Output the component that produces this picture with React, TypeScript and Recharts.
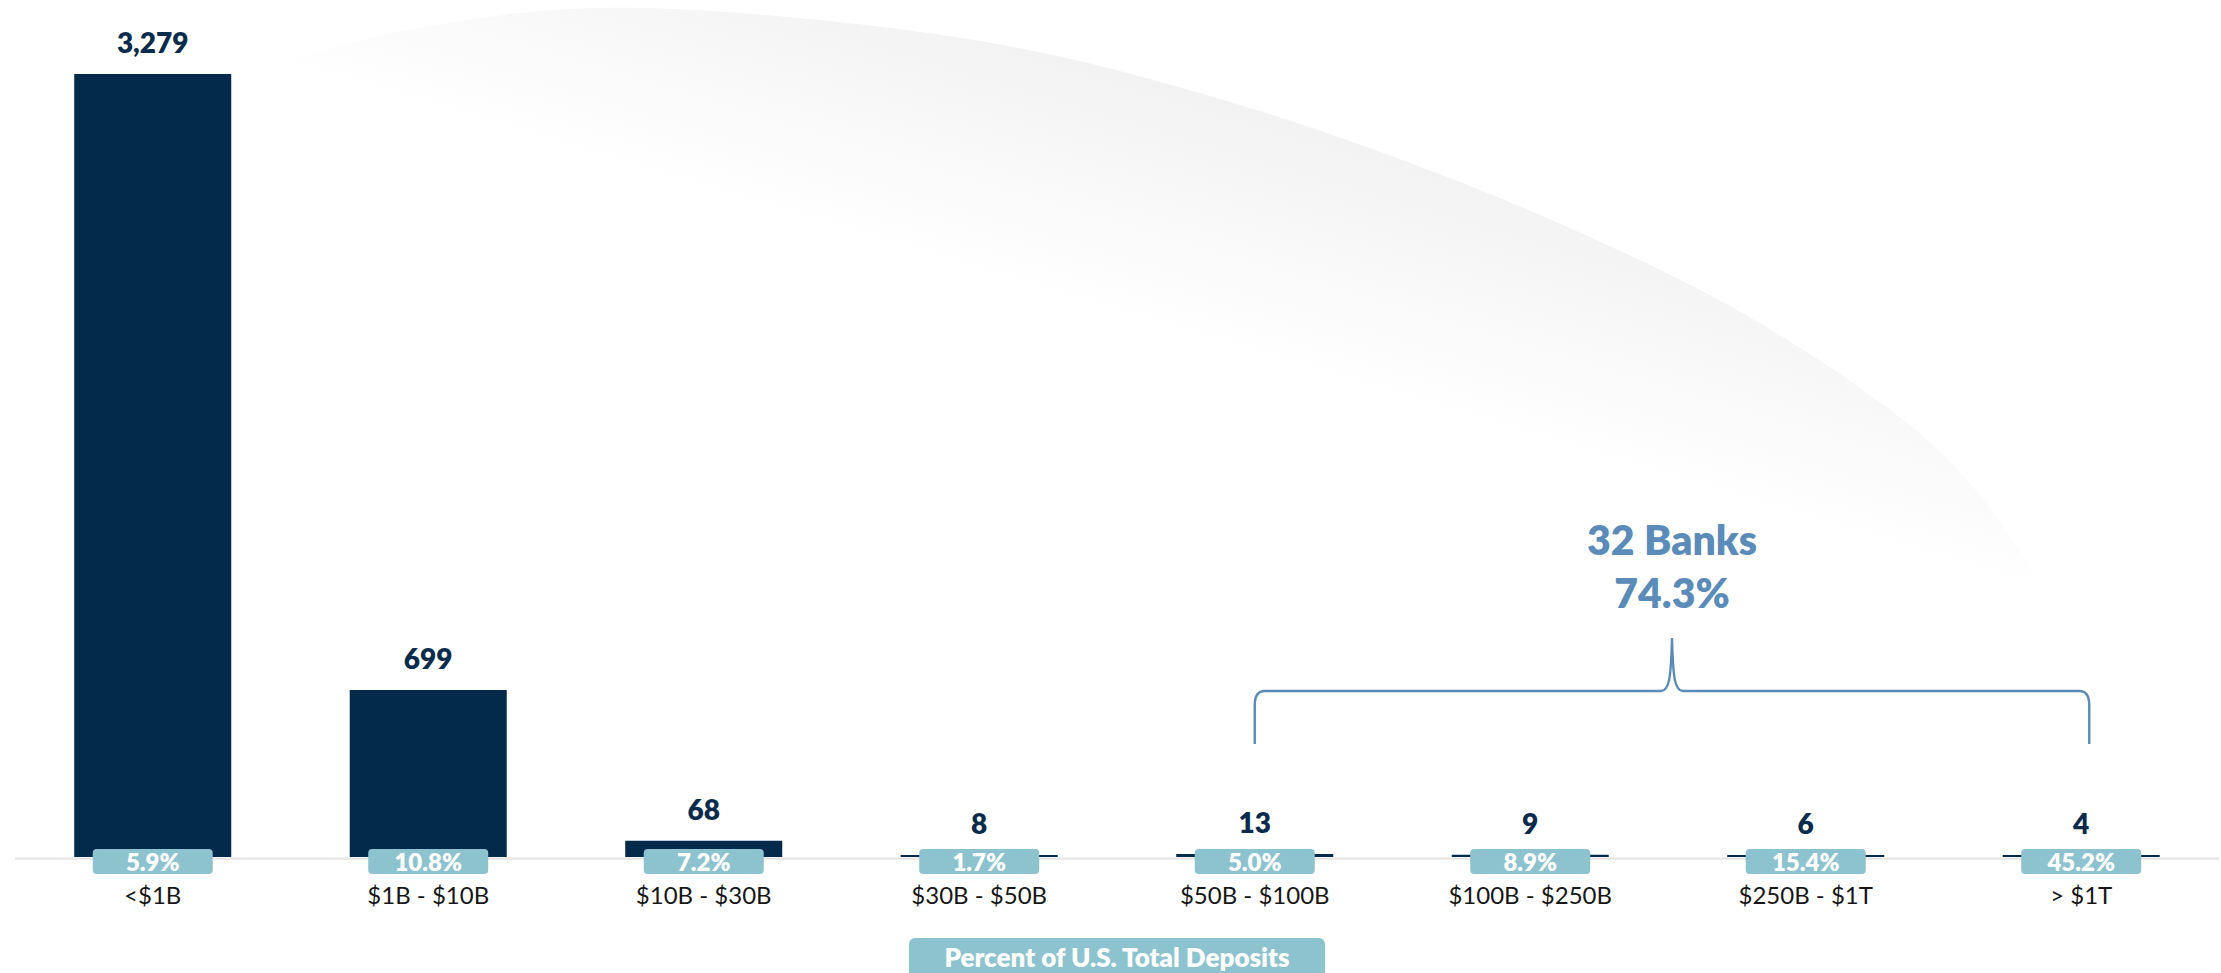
import React from 'react';
import { BarChart, Bar, XAxis, YAxis, LabelList, Customized } from 'recharts';

const categories = ['<$1B', '$1B - $10B', '$10B - $30B', '$30B - $50B', '$50B - $100B', '$100B - $250B', '$250B - $1T', '> $1T'];
const bankCounts = [3279, 699, 68, 8, 13, 9, 6, 4];
const depositShares = ['5.9%', '10.8%', '7.2%', '1.7%', '5.0%', '8.9%', '15.4%', '45.2%'];
const bracketTitle = '32 Banks';
const bracketValue = '74.3%';
const legendLabel = 'Percent of U.S. Total Deposits';
const bracketFrom = 4;
const bracketTo = 7;

const data = categories.map((c, i) => ({ category: c, banks: bankCounts[i], share: depositShares[i] }));

const W = 2221;
const H = 973;
const MARGIN = { top: 74, right: 2, bottom: 56, left: 15 };
const AXIS_H = 60;
const FONT = 'Lato, "Open Sans", sans-serif';
const NAVY = '#03294b';
const TEAL = '#8dc3cf';
const STEEL = '#5a8bb9';

const plotW = W - MARGIN.left - MARGIN.right;
const band = plotW / categories.length;
const center = (i: number) => MARGIN.left + (i + 0.5) * band;

// decorative backdrop outline (page pixels)
const arcOutline: [number, number][] = [
  [150, 135], [241, 77], [425, 27], [640, 8], [955, 37], [1210, 96],
  [1465, 184], [1700, 290], [1867, 393], [1967, 480], [2050, 597],
];

const smoothPath = (pts: [number, number][]) => {
  let d = `M ${pts[0][0]} ${pts[0][1]}`;
  for (let i = 0; i < pts.length - 1; i++) {
    const p0 = pts[Math.max(0, i - 1)];
    const p1 = pts[i];
    const p2 = pts[i + 1];
    const p3 = pts[Math.min(pts.length - 1, i + 2)];
    const c1x = p1[0] + (p2[0] - p0[0]) / 6;
    const c1y = p1[1] + (p2[1] - p0[1]) / 6;
    const c2x = p2[0] - (p3[0] - p1[0]) / 6;
    const c2y = p2[1] - (p3[1] - p1[1]) / 6;
    d += ` C ${c1x} ${c1y} ${c2x} ${c2y} ${p2[0]} ${p2[1]}`;
  }
  return d;
};

const ValueLabel = (props: any) => {
  const { x, y, width, value } = props;
  return (
    <text x={Number(x) + Number(width) / 2} y={Number(y) - 21} textAnchor="middle" fontFamily={FONT} fontWeight={800} fontSize={28} fill="#0a2b4c">
      {Number(value).toLocaleString('en-US')}
    </text>
  );
};

const ShareLabel = (props: any) => {
  const { x, y, width, height, value } = props;
  const cx = Number(x) + Number(width) / 2;
  const base = Number(y) + Number(height);
  return (
    <g>
      <rect x={cx - 60} y={base - 8} width={120} height={25} rx={4} ry={4} fill={TEAL} />
      <text x={cx} y={base + 14} textAnchor="middle" fontFamily={FONT} fontWeight={800} fontSize={24} fill="#ffffff">
        {value}
      </text>
    </g>
  );
};

const CategoryTick = (props: any) => {
  const { x, y, payload } = props;
  return (
    <text x={x} y={Number(y) + 47} textAnchor="middle" fontFamily={FONT} fontSize={24} fill="#161616">
      {payload.value}
    </text>
  );
};

const Backdrop = () => {
  const last = arcOutline[arcOutline.length - 1];
  const first = arcOutline[0];
  const d = `${smoothPath(arcOutline)} L ${last[0]} 860 L ${first[0]} 860 Z`;
  return (
    <g>
      <defs>
        <linearGradient id="arcShade" gradientUnits="userSpaceOnUse" x1={1338} y1={384} x2={1424} y2={97}>
          <stop offset="0" stopColor="#ffffff" />
          <stop offset="1" stopColor="#efefef" />
        </linearGradient>
      </defs>
      <path d={d} fill="url(#arcShade)" />
    </g>
  );
};

const Bracket = () => {
  const left = center(bracketFrom);
  const right = center(bracketTo) + 8;
  const mid = (left + right) / 2;
  const hy = 691;
  const tipY = 638;
  const endY = 744;
  const d = [
    `M ${left} ${endY}`,
    `L ${left} ${hy + 14}`,
    `Q ${left} ${hy} ${left + 10} ${hy}`,
    `L ${mid - 11} ${hy}`,
    `C ${mid - 3} ${hy} ${mid - 1} ${hy - 12} ${mid} ${tipY}`,
    `C ${mid + 1} ${hy - 12} ${mid + 3} ${hy} ${mid + 11} ${hy}`,
    `L ${right - 10} ${hy}`,
    `Q ${right} ${hy} ${right} ${hy + 14}`,
    `L ${right} ${endY}`,
  ].join(' ');
  return (
    <g>
      <path d={d} fill="none" stroke={STEEL} strokeWidth={2.4} />
      <text x={mid} y={555} textAnchor="middle" fontFamily={FONT} fontWeight={800} fontSize={41} fill={STEEL}>
        {bracketTitle}
      </text>
      <text x={mid} y={608} textAnchor="middle" fontFamily={FONT} fontWeight={800} fontSize={41} fill={STEEL}>
        {bracketValue}
      </text>
    </g>
  );
};

const LegendBox = () => {
  const cx = MARGIN.left + plotW / 2;
  return (
    <g>
      <rect x={cx - 208} y={938} width={416} height={46} rx={6} ry={6} fill={TEAL} />
      <text x={cx} y={967} textAnchor="middle" fontFamily={FONT} fontWeight={800} fontSize={26} fill="#ffffff">
        {legendLabel}
      </text>
    </g>
  );
};

export default function App() {
  return (
    <div style={{ position: 'absolute', left: 0, top: 0, width: W, height: H, background: '#ffffff', overflow: 'hidden' }}>
      <BarChart width={W} height={H} data={data} margin={MARGIN} barCategoryGap="21.5%">
        <Customized component={<Backdrop />} />
        <XAxis
          dataKey="category"
          height={AXIS_H}
          axisLine={{ stroke: '#e6e6e6', strokeWidth: 2.4, transform: 'translate(0, 1.6)' }}
          tickLine={false}
          tickSize={0}
          tickMargin={0}
          tick={<CategoryTick />}
          interval={0}
        />
        <YAxis hide domain={[0, 'dataMax']} />
        <Bar dataKey="banks" fill={NAVY} minPointSize={2} isAnimationActive={false}>
          <LabelList dataKey="banks" content={<ValueLabel />} />
          <LabelList dataKey="share" content={<ShareLabel />} />
        </Bar>
        <Customized component={<Bracket />} />
        <Customized component={<LegendBox />} />
      </BarChart>
    </div>
  );
}
